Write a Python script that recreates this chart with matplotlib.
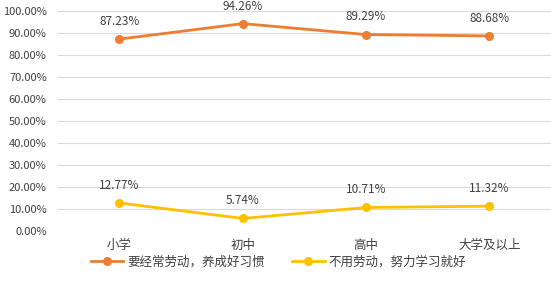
import matplotlib
matplotlib.use('Agg')
import matplotlib.pyplot as plt
from matplotlib.ticker import FuncFormatter

plt.rcParams['font.family'] = ['Noto Sans CJK SC', 'DejaVu Sans']

categories = ['小学', '初中', '高中', '大学及以上']
labor = [87.23, 94.26, 89.29, 88.68]
study = [12.77, 5.74, 10.71, 11.32]
names = ['要经常劳动，养成好习惯', '不用劳动，努力学习就好']

fig = plt.figure(figsize=(5.51, 2.97), dpi=100)
ax = fig.add_axes([0.105, 0.222, 0.895, 0.741])

x = range(len(categories))
ax.plot(x, labor, color='#ED7D31', lw=2, marker='o', ms=5.5, label=names[0])
ax.plot(x, study, color='#FFC000', lw=2, marker='o', ms=5.5, label=names[1])

for i in x:
    ax.annotate('%.2f%%' % labor[i], (i, labor[i]), xytext=(0, 8), textcoords='offset points',
                ha='center', va='bottom', fontsize=8.5, color='#404040')
    ax.annotate('%.2f%%' % study[i], (i, study[i]), xytext=(0, 8), textcoords='offset points',
                ha='center', va='bottom', fontsize=8.5, color='#404040')

ax.set_xlim(-0.5, 3.5)
ax.set_ylim(0, 100)
ax.set_yticks(range(0, 101, 10))
ax.yaxis.set_major_formatter(FuncFormatter(lambda v, p: '%.2f%%' % v))
ax.set_xticks(list(x))
ax.set_xticklabels(categories)
ax.tick_params(axis='both', length=0, labelcolor='#404040')
ax.tick_params(axis='y', labelsize=8, pad=8)
ax.tick_params(axis='x', labelsize=9, pad=13)
for lbl in ax.get_xticklabels():
    lbl.set_va('baseline')
ax.grid(axis='y', color='#D9D9D9', lw=0.8)
ax.set_axisbelow(True)
for s in ax.spines.values():
    s.set_visible(False)

fig.legend(loc='center', bbox_to_anchor=(0.505, 0.118), ncol=2, frameon=False,
           fontsize=9, labelcolor='#404040', handlelength=2.6, handletextpad=0.3,
           columnspacing=2.2)

fig.savefig('out.png', dpi=100)
